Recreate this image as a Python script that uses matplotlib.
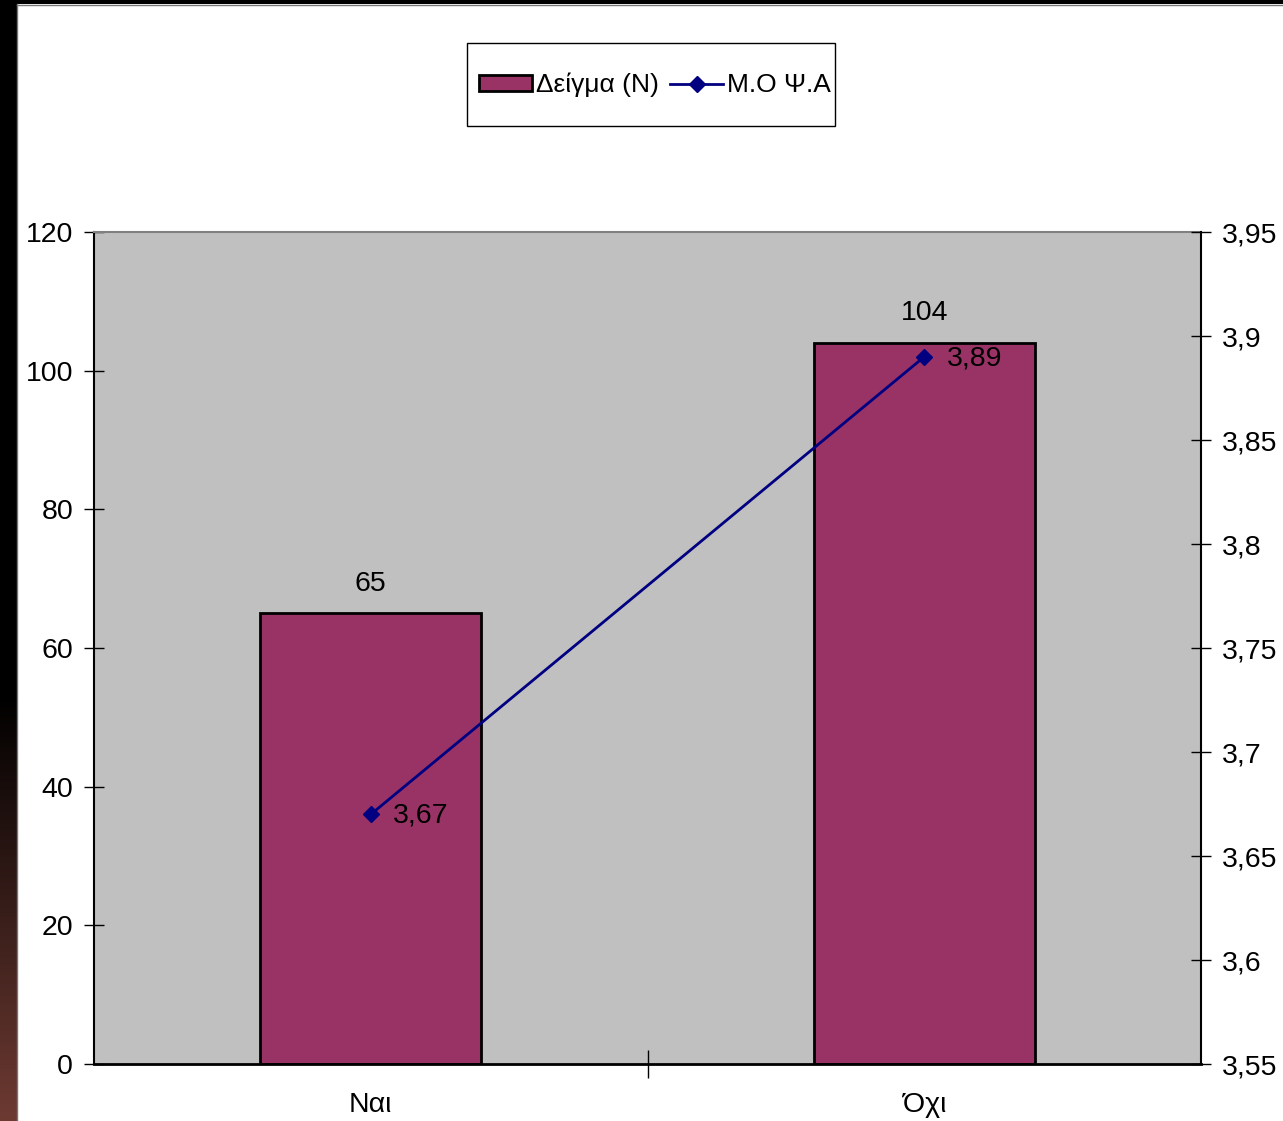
import numpy as np
import matplotlib
matplotlib.use("Agg")
import matplotlib.pyplot as plt
from matplotlib.lines import Line2D
from matplotlib.patches import Patch, Rectangle

plt.rcParams['font.family'] = ['Liberation Sans', 'DejaVu Sans']

categories = ["Ναι", "Όχι"]
sample_n = [65, 104]
mean_score = [3.67, 3.89]
left_ticks = [0, 20, 40, 60, 80, 100, 120]
right_ticks = [3.55, 3.6, 3.65, 3.7, 3.75, 3.8, 3.85, 3.9, 3.95]

BAR_COLOR = "#993366"
LINE_COLOR = "#000080"
BG = "#C0C0C0"
FS = 20.5

W, H = 1283, 1121
fig = plt.figure(figsize=(W / 100, H / 100), dpi=100)
fig.patch.set_facecolor("white")

# dark frame strips on the left and top edges (black fading to brown at the bottom)
strip = fig.add_axes([0, 0, 17 / W, 1])
strip.set_axis_off()
frac_from_top = np.linspace(0, 1, 400)
t = np.clip((frac_from_top - 0.62) / 0.38, 0, 1)
top_col = np.array([0.0, 0.0, 0.0])
bot_col = np.array([0x6d, 0x3a, 0x32]) / 255
cols = top_col[None, :] * (1 - t[:, None]) + bot_col[None, :] * t[:, None]
strip.imshow(cols[:, None, :], aspect="auto", extent=[0, 1, 0, 1], origin="upper")
strip.set_xlim(0, 1)
strip.set_ylim(0, 1)
fig.add_artist(Rectangle((0, 1 - 4 / H), 1, 4 / H, transform=fig.transFigure,
                         facecolor="black", edgecolor="none", zorder=5))
fig.add_artist(Line2D([17 / W, 17 / W], [0, 1 - 4 / H], transform=fig.transFigure,
                      color="#777777", lw=1, zorder=6))
fig.add_artist(Line2D([17 / W, 1], [1 - 4.5 / H, 1 - 4.5 / H], transform=fig.transFigure,
                      color="#777777", lw=1, zorder=6))

# main plot area
x0, x1 = 94, 1201
y0, y1 = 232, 1064
ax = fig.add_axes([x0 / W, 1 - y1 / H, (x1 - x0) / W, (y1 - y0) / H])
ax.set_facecolor(BG)
x = np.arange(len(categories))
ax.bar(x, sample_n, width=0.4, color=BAR_COLOR, edgecolor="black", linewidth=2, zorder=2)
ax.set_xlim(-0.5, 1.5)
ax.set_ylim(0, 120)
ax.set_yticks(left_ticks)
ax.set_yticklabels([str(v) for v in left_ticks], fontsize=FS)
ax.set_xticks([0.5])
ax.set_xticklabels([])
ax.set_xticks(x, minor=True)
ax.set_xticklabels(categories, minor=True, fontsize=FS)
ax.tick_params(axis="x", which="minor", length=0, pad=20)
ax.tick_params(axis="x", which="major", direction="inout", length=20, width=1)
ax.tick_params(axis="y", direction="inout", length=14, width=1, pad=8)
ax.spines["right"].set_visible(False)
ax.spines["left"].set_linewidth(1.5)
ax.spines["bottom"].set_linewidth(2)
ax.spines["top"].set_color("#808080")
ax.spines["top"].set_linewidth(1.5)

for xi, v in zip(x, sample_n):
    ax.text(xi, v + 2.4, str(v), ha="center", va="bottom", fontsize=FS)

ax2 = ax.twinx()
ax2.set_ylim(3.55, 3.95)
ax2.set_yticks(right_ticks)
ax2.set_yticklabels([f"{v:.2f}".rstrip("0").replace(".", ",") for v in right_ticks], fontsize=FS)
ax2.tick_params(axis="y", direction="inout", length=14, width=1, pad=8)
for s in ["top", "left", "bottom"]:
    ax2.spines[s].set_visible(False)
ax2.spines["right"].set_linewidth(1.5)
ax2.plot(x, mean_score, color=LINE_COLOR, lw=2, marker="D", markersize=8, zorder=4)
for xi, v in zip(x, mean_score):
    ax2.annotate(f"{v:.2f}".replace(".", ","), (xi, v), xytext=(16, -1),
                 textcoords="offset points", ha="left", va="center", fontsize=FS)

# legend box with its own frame
fig.add_artist(Rectangle((467 / W, 1 - 126 / H), (835 - 467) / W, (126 - 43) / H,
                         transform=fig.transFigure, facecolor="white",
                         edgecolor="black", lw=1, zorder=3))
handles = [Patch(facecolor=BAR_COLOR, edgecolor="black", linewidth=2),
           Line2D([0], [0], color=LINE_COLOR, lw=2, marker="D", markersize=8)]
leg = fig.legend(handles, ["Δείγμα (N)", "Μ.Ο Ψ.Α"], loc="center",
                 bbox_to_anchor=(655 / W, 1 - 85 / H), ncol=2, fontsize=19,
                 frameon=False, handlelength=2.0, handleheight=0.55,
                 handletextpad=0.15, columnspacing=0.45, borderpad=0, borderaxespad=0)
leg.set_zorder(4)

fig.savefig("out.png", dpi=100)
